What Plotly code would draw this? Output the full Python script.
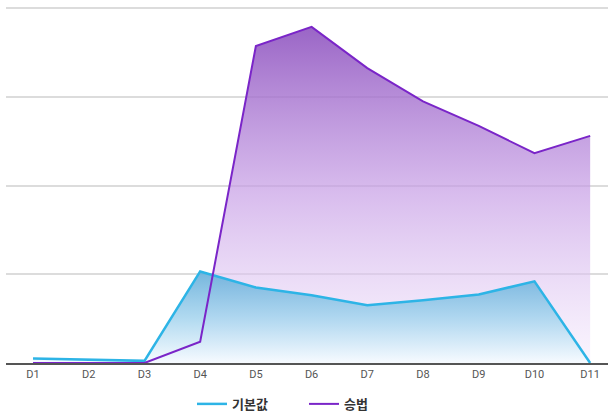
import plotly.graph_objects as go

categories = ["D1", "D2", "D3", "D4", "D5", "D6", "D7", "D8", "D9", "D10", "D11"]
base_values = [1.3, 1.0, 0.6, 25.8, 21.3, 19.1, 16.3, 17.7, 19.3, 23.0, 0.0]
mult_values = [0.0, 0.0, 0.0, 6.0, 89.3, 94.7, 83.1, 73.7, 66.8, 59.1, 64.0]
base_name = "기본값"
mult_name = "승법"

blue = "#2db4e6"
purple = "#7a25c8"

fig = go.Figure()

# purple area fill
fig.add_trace(go.Scatter(
    x=categories, y=mult_values, mode="lines", fill="tozeroy",
    line=dict(width=0, color=purple),
    fillgradient=dict(type="vertical",
                      colorscale=[[0, "rgba(245,235,253,0.5)"], [0.5, "rgba(200,160,230,0.7)"], [1, "rgba(140,80,190,0.88)"]]),
    showlegend=False, hoverinfo="skip"))

# blue area fill
fig.add_trace(go.Scatter(
    x=categories, y=base_values, mode="lines", fill="tozeroy",
    line=dict(width=0, color=blue),
    fillgradient=dict(type="vertical",
                      colorscale=[[0, "rgba(246,251,255,0.9)"], [0.5, "rgba(165,212,238,0.88)"], [1, "rgba(105,175,218,0.92)"]]),
    showlegend=False, hoverinfo="skip"))

fig.add_trace(go.Scatter(
    x=categories, y=base_values, mode="lines", name=base_name,
    line=dict(width=2.5, color=blue), showlegend=True))
fig.add_trace(go.Scatter(
    x=categories, y=mult_values, mode="lines", name=mult_name,
    line=dict(width=2, color=purple), showlegend=True))

fig.update_layout(
    width=608, height=415,
    margin=dict(l=6, r=0, t=7, b=52, autoexpand=False),
    paper_bgcolor="white", plot_bgcolor="white",
    font=dict(family="Noto Sans CJK KR, Roboto, sans-serif", color="#333"),
    xaxis=dict(type="category", range=[-0.485, 10.32], showgrid=False,
               showline=True, linecolor="#555", linewidth=2,
               ticks="", tickfont=dict(size=11, color="#555", family="Roboto"),
               automargin=False, fixedrange=True),
    yaxis=dict(range=[0, 100.3], tickvals=[0, 25, 50, 75, 100], showticklabels=False,
               showgrid=True, gridcolor="#dcdcdc", gridwidth=2,
               zeroline=False, showline=False, automargin=False, fixedrange=True),
    legend=dict(orientation="h", x=0.309, xanchor="left", y=-0.115, yanchor="middle",
                traceorder="normal", entrywidth=67, entrywidthmode="pixels",
                font=dict(size=13, color="#333", family="Noto Sans CJK KR", weight="bold"),
                itemwidth=30),
)

fig.write_html("out.html")
